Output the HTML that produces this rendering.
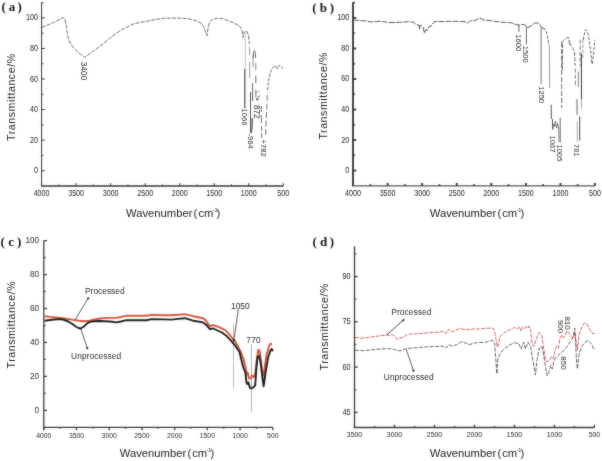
<!DOCTYPE html>
<html><head><meta charset="utf-8"><style>
html,body{margin:0;padding:0;background:#fff;}
svg{display:block;will-change:transform;}
</style></head><body>
<svg width="602" height="461" viewBox="0 0 602 461">
<defs><filter id="bl" filterUnits="userSpaceOnUse" x="0" y="0" width="602" height="461" color-interpolation-filters="sRGB"><feGaussianBlur in="SourceGraphic" stdDeviation="1.0" result="b"/><feComposite in="SourceGraphic" in2="b" operator="arithmetic" k1="0" k2="0.65" k3="0.35" k4="0"/></filter></defs>
<rect width="602" height="461" fill="#fff"/>
<g filter="url(#bl)">
<rect width="602" height="461" fill="#fff"/>
<path d="M41.60,2.30 L41.60,186.00" fill="none" stroke="#333" stroke-width="1.0"/>
<path d="M41.10,186.00 L283.30,186.00" fill="none" stroke="#333" stroke-width="1.5"/>
<line x1="41.60" y1="186.00" x2="41.60" y2="183.20" stroke="#333" stroke-width="1.0" />
<text x="41.60" y="196.00" font-family='"Liberation Sans", sans-serif' font-size="8.3" text-anchor="middle" fill="#222" font-weight="normal" textLength="15.87" lengthAdjust="spacingAndGlyphs">4000</text>
<line x1="76.13" y1="186.00" x2="76.13" y2="183.20" stroke="#333" stroke-width="1.0" />
<text x="76.13" y="196.00" font-family='"Liberation Sans", sans-serif' font-size="8.3" text-anchor="middle" fill="#222" font-weight="normal" textLength="15.87" lengthAdjust="spacingAndGlyphs">3500</text>
<line x1="110.66" y1="186.00" x2="110.66" y2="183.20" stroke="#333" stroke-width="1.0" />
<text x="110.66" y="196.00" font-family='"Liberation Sans", sans-serif' font-size="8.3" text-anchor="middle" fill="#222" font-weight="normal" textLength="15.87" lengthAdjust="spacingAndGlyphs">3000</text>
<line x1="145.19" y1="186.00" x2="145.19" y2="183.20" stroke="#333" stroke-width="1.0" />
<text x="145.19" y="196.00" font-family='"Liberation Sans", sans-serif' font-size="8.3" text-anchor="middle" fill="#222" font-weight="normal" textLength="15.87" lengthAdjust="spacingAndGlyphs">2500</text>
<line x1="179.71" y1="186.00" x2="179.71" y2="183.20" stroke="#333" stroke-width="1.0" />
<text x="179.71" y="196.00" font-family='"Liberation Sans", sans-serif' font-size="8.3" text-anchor="middle" fill="#222" font-weight="normal" textLength="15.87" lengthAdjust="spacingAndGlyphs">2000</text>
<line x1="214.24" y1="186.00" x2="214.24" y2="183.20" stroke="#333" stroke-width="1.0" />
<text x="214.24" y="196.00" font-family='"Liberation Sans", sans-serif' font-size="8.3" text-anchor="middle" fill="#222" font-weight="normal" textLength="15.87" lengthAdjust="spacingAndGlyphs">1500</text>
<line x1="248.77" y1="186.00" x2="248.77" y2="183.20" stroke="#333" stroke-width="1.0" />
<text x="248.77" y="196.00" font-family='"Liberation Sans", sans-serif' font-size="8.3" text-anchor="middle" fill="#222" font-weight="normal" textLength="15.87" lengthAdjust="spacingAndGlyphs">1000</text>
<line x1="283.30" y1="186.00" x2="283.30" y2="183.20" stroke="#333" stroke-width="1.0" />
<text x="283.30" y="196.00" font-family='"Liberation Sans", sans-serif' font-size="8.3" text-anchor="middle" fill="#222" font-weight="normal" textLength="11.91" lengthAdjust="spacingAndGlyphs">500</text>
<line x1="58.86" y1="186.00" x2="58.86" y2="184.40" stroke="#333" stroke-width="1.0" />
<line x1="93.39" y1="186.00" x2="93.39" y2="184.40" stroke="#333" stroke-width="1.0" />
<line x1="127.92" y1="186.00" x2="127.92" y2="184.40" stroke="#333" stroke-width="1.0" />
<line x1="162.45" y1="186.00" x2="162.45" y2="184.40" stroke="#333" stroke-width="1.0" />
<line x1="196.98" y1="186.00" x2="196.98" y2="184.40" stroke="#333" stroke-width="1.0" />
<line x1="231.51" y1="186.00" x2="231.51" y2="184.40" stroke="#333" stroke-width="1.0" />
<line x1="266.04" y1="186.00" x2="266.04" y2="184.40" stroke="#333" stroke-width="1.0" />
<line x1="41.60" y1="170.72" x2="44.80" y2="170.72" stroke="#333" stroke-width="1.0" />
<text x="37.90" y="173.21" font-family='"Liberation Sans", sans-serif' font-size="8.3" text-anchor="end" fill="#222" font-weight="normal" textLength="3.97" lengthAdjust="spacingAndGlyphs">0</text>
<line x1="41.60" y1="140.15" x2="44.80" y2="140.15" stroke="#333" stroke-width="1.0" />
<text x="37.90" y="142.64" font-family='"Liberation Sans", sans-serif' font-size="8.3" text-anchor="end" fill="#222" font-weight="normal" textLength="7.94" lengthAdjust="spacingAndGlyphs">20</text>
<line x1="41.60" y1="109.59" x2="44.80" y2="109.59" stroke="#333" stroke-width="1.0" />
<text x="37.90" y="112.08" font-family='"Liberation Sans", sans-serif' font-size="8.3" text-anchor="end" fill="#222" font-weight="normal" textLength="7.94" lengthAdjust="spacingAndGlyphs">40</text>
<line x1="41.60" y1="79.02" x2="44.80" y2="79.02" stroke="#333" stroke-width="1.0" />
<text x="37.90" y="81.51" font-family='"Liberation Sans", sans-serif' font-size="8.3" text-anchor="end" fill="#222" font-weight="normal" textLength="7.94" lengthAdjust="spacingAndGlyphs">60</text>
<line x1="41.60" y1="48.45" x2="44.80" y2="48.45" stroke="#333" stroke-width="1.0" />
<text x="37.90" y="50.94" font-family='"Liberation Sans", sans-serif' font-size="8.3" text-anchor="end" fill="#222" font-weight="normal" textLength="7.94" lengthAdjust="spacingAndGlyphs">80</text>
<line x1="41.60" y1="17.89" x2="44.80" y2="17.89" stroke="#333" stroke-width="1.0" />
<text x="37.90" y="20.38" font-family='"Liberation Sans", sans-serif' font-size="8.3" text-anchor="end" fill="#222" font-weight="normal" textLength="11.91" lengthAdjust="spacingAndGlyphs">100</text>
<line x1="41.60" y1="155.43" x2="43.40" y2="155.43" stroke="#333" stroke-width="1.0" />
<line x1="41.60" y1="124.87" x2="43.40" y2="124.87" stroke="#333" stroke-width="1.0" />
<line x1="41.60" y1="94.30" x2="43.40" y2="94.30" stroke="#333" stroke-width="1.0" />
<line x1="41.60" y1="63.74" x2="43.40" y2="63.74" stroke="#333" stroke-width="1.0" />
<line x1="41.60" y1="33.17" x2="43.40" y2="33.17" stroke="#333" stroke-width="1.0" />
<line x1="41.60" y1="2.61" x2="43.40" y2="2.61" stroke="#333" stroke-width="1.0" />
<path d="M353.00,2.30 L353.00,185.80" fill="none" stroke="#3a3a3a" stroke-width="1.9"/>
<path d="M352.05,185.80 L595.00,185.80" fill="none" stroke="#555" stroke-width="1.3"/>
<line x1="353.00" y1="185.80" x2="353.00" y2="183.00" stroke="#3a3a3a" stroke-width="1.9" />
<text x="353.00" y="196.00" font-family='"Liberation Sans", sans-serif' font-size="8.3" text-anchor="middle" fill="#222" font-weight="normal" textLength="15.87" lengthAdjust="spacingAndGlyphs">4000</text>
<line x1="387.57" y1="185.80" x2="387.57" y2="183.00" stroke="#3a3a3a" stroke-width="1.9" />
<text x="387.57" y="196.00" font-family='"Liberation Sans", sans-serif' font-size="8.3" text-anchor="middle" fill="#222" font-weight="normal" textLength="15.87" lengthAdjust="spacingAndGlyphs">3500</text>
<line x1="422.14" y1="185.80" x2="422.14" y2="183.00" stroke="#3a3a3a" stroke-width="1.9" />
<text x="422.14" y="196.00" font-family='"Liberation Sans", sans-serif' font-size="8.3" text-anchor="middle" fill="#222" font-weight="normal" textLength="15.87" lengthAdjust="spacingAndGlyphs">3000</text>
<line x1="456.71" y1="185.80" x2="456.71" y2="183.00" stroke="#3a3a3a" stroke-width="1.9" />
<text x="456.71" y="196.00" font-family='"Liberation Sans", sans-serif' font-size="8.3" text-anchor="middle" fill="#222" font-weight="normal" textLength="15.87" lengthAdjust="spacingAndGlyphs">2500</text>
<line x1="491.29" y1="185.80" x2="491.29" y2="183.00" stroke="#3a3a3a" stroke-width="1.9" />
<text x="491.29" y="196.00" font-family='"Liberation Sans", sans-serif' font-size="8.3" text-anchor="middle" fill="#222" font-weight="normal" textLength="15.87" lengthAdjust="spacingAndGlyphs">2000</text>
<line x1="525.86" y1="185.80" x2="525.86" y2="183.00" stroke="#3a3a3a" stroke-width="1.9" />
<text x="525.86" y="196.00" font-family='"Liberation Sans", sans-serif' font-size="8.3" text-anchor="middle" fill="#222" font-weight="normal" textLength="15.87" lengthAdjust="spacingAndGlyphs">1500</text>
<line x1="560.43" y1="185.80" x2="560.43" y2="183.00" stroke="#3a3a3a" stroke-width="1.9" />
<text x="560.43" y="196.00" font-family='"Liberation Sans", sans-serif' font-size="8.3" text-anchor="middle" fill="#222" font-weight="normal" textLength="15.87" lengthAdjust="spacingAndGlyphs">1000</text>
<line x1="595.00" y1="185.80" x2="595.00" y2="183.00" stroke="#3a3a3a" stroke-width="1.9" />
<text x="595.00" y="196.00" font-family='"Liberation Sans", sans-serif' font-size="8.3" text-anchor="middle" fill="#222" font-weight="normal" textLength="11.91" lengthAdjust="spacingAndGlyphs">500</text>
<line x1="370.29" y1="185.80" x2="370.29" y2="184.20" stroke="#3a3a3a" stroke-width="1.9" />
<line x1="404.86" y1="185.80" x2="404.86" y2="184.20" stroke="#3a3a3a" stroke-width="1.9" />
<line x1="439.43" y1="185.80" x2="439.43" y2="184.20" stroke="#3a3a3a" stroke-width="1.9" />
<line x1="474.00" y1="185.80" x2="474.00" y2="184.20" stroke="#3a3a3a" stroke-width="1.9" />
<line x1="508.57" y1="185.80" x2="508.57" y2="184.20" stroke="#3a3a3a" stroke-width="1.9" />
<line x1="543.14" y1="185.80" x2="543.14" y2="184.20" stroke="#3a3a3a" stroke-width="1.9" />
<line x1="577.71" y1="185.80" x2="577.71" y2="184.20" stroke="#3a3a3a" stroke-width="1.9" />
<line x1="353.00" y1="170.58" x2="356.20" y2="170.58" stroke="#3a3a3a" stroke-width="1.9" />
<text x="349.30" y="173.07" font-family='"Liberation Sans", sans-serif' font-size="8.3" text-anchor="end" fill="#222" font-weight="normal" textLength="3.97" lengthAdjust="spacingAndGlyphs">0</text>
<line x1="353.00" y1="140.04" x2="356.20" y2="140.04" stroke="#3a3a3a" stroke-width="1.9" />
<text x="349.30" y="142.53" font-family='"Liberation Sans", sans-serif' font-size="8.3" text-anchor="end" fill="#222" font-weight="normal" textLength="7.94" lengthAdjust="spacingAndGlyphs">20</text>
<line x1="353.00" y1="109.50" x2="356.20" y2="109.50" stroke="#3a3a3a" stroke-width="1.9" />
<text x="349.30" y="111.99" font-family='"Liberation Sans", sans-serif' font-size="8.3" text-anchor="end" fill="#222" font-weight="normal" textLength="7.94" lengthAdjust="spacingAndGlyphs">40</text>
<line x1="353.00" y1="78.96" x2="356.20" y2="78.96" stroke="#3a3a3a" stroke-width="1.9" />
<text x="349.30" y="81.45" font-family='"Liberation Sans", sans-serif' font-size="8.3" text-anchor="end" fill="#222" font-weight="normal" textLength="7.94" lengthAdjust="spacingAndGlyphs">60</text>
<line x1="353.00" y1="48.42" x2="356.20" y2="48.42" stroke="#3a3a3a" stroke-width="1.9" />
<text x="349.30" y="50.91" font-family='"Liberation Sans", sans-serif' font-size="8.3" text-anchor="end" fill="#222" font-weight="normal" textLength="7.94" lengthAdjust="spacingAndGlyphs">80</text>
<line x1="353.00" y1="17.88" x2="356.20" y2="17.88" stroke="#3a3a3a" stroke-width="1.9" />
<text x="349.30" y="20.37" font-family='"Liberation Sans", sans-serif' font-size="8.3" text-anchor="end" fill="#222" font-weight="normal" textLength="11.91" lengthAdjust="spacingAndGlyphs">100</text>
<line x1="353.00" y1="155.31" x2="354.80" y2="155.31" stroke="#3a3a3a" stroke-width="1.9" />
<line x1="353.00" y1="124.77" x2="354.80" y2="124.77" stroke="#3a3a3a" stroke-width="1.9" />
<line x1="353.00" y1="94.23" x2="354.80" y2="94.23" stroke="#3a3a3a" stroke-width="1.9" />
<line x1="353.00" y1="63.69" x2="354.80" y2="63.69" stroke="#3a3a3a" stroke-width="1.9" />
<line x1="353.00" y1="33.15" x2="354.80" y2="33.15" stroke="#3a3a3a" stroke-width="1.9" />
<line x1="353.00" y1="2.61" x2="354.80" y2="2.61" stroke="#3a3a3a" stroke-width="1.9" />
<path d="M43.80,240.60 L43.80,430.30" fill="none" stroke="#3c3c3c" stroke-width="1.3"/>
<path d="M43.15,427.30 L272.80,427.30" fill="none" stroke="#3c3c3c" stroke-width="1.3"/>
<line x1="43.80" y1="427.30" x2="43.80" y2="430.30" stroke="#3c3c3c" stroke-width="1.3" />
<text x="43.80" y="437.60" font-family='"Liberation Sans", sans-serif' font-size="7.0" text-anchor="middle" fill="#2a2a2a" font-weight="normal" textLength="15.26" lengthAdjust="spacingAndGlyphs">4000</text>
<line x1="76.51" y1="427.30" x2="76.51" y2="430.30" stroke="#3c3c3c" stroke-width="1.3" />
<text x="76.51" y="437.60" font-family='"Liberation Sans", sans-serif' font-size="7.0" text-anchor="middle" fill="#2a2a2a" font-weight="normal" textLength="15.26" lengthAdjust="spacingAndGlyphs">3500</text>
<line x1="109.23" y1="427.30" x2="109.23" y2="430.30" stroke="#3c3c3c" stroke-width="1.3" />
<text x="109.23" y="437.60" font-family='"Liberation Sans", sans-serif' font-size="7.0" text-anchor="middle" fill="#2a2a2a" font-weight="normal" textLength="15.26" lengthAdjust="spacingAndGlyphs">3000</text>
<line x1="141.94" y1="427.30" x2="141.94" y2="430.30" stroke="#3c3c3c" stroke-width="1.3" />
<text x="141.94" y="437.60" font-family='"Liberation Sans", sans-serif' font-size="7.0" text-anchor="middle" fill="#2a2a2a" font-weight="normal" textLength="15.26" lengthAdjust="spacingAndGlyphs">2500</text>
<line x1="174.66" y1="427.30" x2="174.66" y2="430.30" stroke="#3c3c3c" stroke-width="1.3" />
<text x="174.66" y="437.60" font-family='"Liberation Sans", sans-serif' font-size="7.0" text-anchor="middle" fill="#2a2a2a" font-weight="normal" textLength="15.26" lengthAdjust="spacingAndGlyphs">2000</text>
<line x1="207.37" y1="427.30" x2="207.37" y2="430.30" stroke="#3c3c3c" stroke-width="1.3" />
<text x="207.37" y="437.60" font-family='"Liberation Sans", sans-serif' font-size="7.0" text-anchor="middle" fill="#2a2a2a" font-weight="normal" textLength="15.26" lengthAdjust="spacingAndGlyphs">1500</text>
<line x1="240.09" y1="427.30" x2="240.09" y2="430.30" stroke="#3c3c3c" stroke-width="1.3" />
<text x="240.09" y="437.60" font-family='"Liberation Sans", sans-serif' font-size="7.0" text-anchor="middle" fill="#2a2a2a" font-weight="normal" textLength="15.26" lengthAdjust="spacingAndGlyphs">1000</text>
<line x1="272.80" y1="427.30" x2="272.80" y2="430.30" stroke="#3c3c3c" stroke-width="1.3" />
<text x="272.80" y="437.60" font-family='"Liberation Sans", sans-serif' font-size="7.0" text-anchor="middle" fill="#2a2a2a" font-weight="normal" textLength="11.44" lengthAdjust="spacingAndGlyphs">500</text>
<line x1="60.16" y1="427.30" x2="60.16" y2="428.80" stroke="#3c3c3c" stroke-width="1.3" />
<line x1="92.87" y1="427.30" x2="92.87" y2="428.80" stroke="#3c3c3c" stroke-width="1.3" />
<line x1="125.59" y1="427.30" x2="125.59" y2="428.80" stroke="#3c3c3c" stroke-width="1.3" />
<line x1="158.30" y1="427.30" x2="158.30" y2="428.80" stroke="#3c3c3c" stroke-width="1.3" />
<line x1="191.01" y1="427.30" x2="191.01" y2="428.80" stroke="#3c3c3c" stroke-width="1.3" />
<line x1="223.73" y1="427.30" x2="223.73" y2="428.80" stroke="#3c3c3c" stroke-width="1.3" />
<line x1="256.44" y1="427.30" x2="256.44" y2="428.80" stroke="#3c3c3c" stroke-width="1.3" />
<line x1="43.80" y1="410.33" x2="47.00" y2="410.33" stroke="#3c3c3c" stroke-width="1.3" />
<text x="39.20" y="412.85" font-family='"Liberation Sans", sans-serif' font-size="8.4" text-anchor="end" fill="#2a2a2a" font-weight="normal" textLength="4.58" lengthAdjust="spacingAndGlyphs">0</text>
<line x1="43.80" y1="376.38" x2="47.00" y2="376.38" stroke="#3c3c3c" stroke-width="1.3" />
<text x="39.20" y="378.90" font-family='"Liberation Sans", sans-serif' font-size="8.4" text-anchor="end" fill="#2a2a2a" font-weight="normal" textLength="9.15" lengthAdjust="spacingAndGlyphs">20</text>
<line x1="43.80" y1="342.44" x2="47.00" y2="342.44" stroke="#3c3c3c" stroke-width="1.3" />
<text x="39.20" y="344.96" font-family='"Liberation Sans", sans-serif' font-size="8.4" text-anchor="end" fill="#2a2a2a" font-weight="normal" textLength="9.15" lengthAdjust="spacingAndGlyphs">40</text>
<line x1="43.80" y1="308.49" x2="47.00" y2="308.49" stroke="#3c3c3c" stroke-width="1.3" />
<text x="39.20" y="311.01" font-family='"Liberation Sans", sans-serif' font-size="8.4" text-anchor="end" fill="#2a2a2a" font-weight="normal" textLength="9.15" lengthAdjust="spacingAndGlyphs">60</text>
<line x1="43.80" y1="274.55" x2="47.00" y2="274.55" stroke="#3c3c3c" stroke-width="1.3" />
<text x="39.20" y="277.07" font-family='"Liberation Sans", sans-serif' font-size="8.4" text-anchor="end" fill="#2a2a2a" font-weight="normal" textLength="9.15" lengthAdjust="spacingAndGlyphs">80</text>
<line x1="43.80" y1="240.60" x2="47.00" y2="240.60" stroke="#3c3c3c" stroke-width="1.3" />
<text x="39.20" y="243.12" font-family='"Liberation Sans", sans-serif' font-size="8.4" text-anchor="end" fill="#2a2a2a" font-weight="normal" textLength="13.73" lengthAdjust="spacingAndGlyphs">100</text>
<line x1="43.80" y1="393.35" x2="45.60" y2="393.35" stroke="#3c3c3c" stroke-width="1.3" />
<line x1="43.80" y1="359.41" x2="45.60" y2="359.41" stroke="#3c3c3c" stroke-width="1.3" />
<line x1="43.80" y1="325.46" x2="45.60" y2="325.46" stroke="#3c3c3c" stroke-width="1.3" />
<line x1="43.80" y1="291.52" x2="45.60" y2="291.52" stroke="#3c3c3c" stroke-width="1.3" />
<line x1="43.80" y1="257.57" x2="45.60" y2="257.57" stroke="#3c3c3c" stroke-width="1.3" />
<path d="M354.50,246.30 L354.50,427.50" fill="none" stroke="#3c3c3c" stroke-width="1.3"/>
<path d="M353.85,427.50 L594.40,427.50" fill="none" stroke="#3c3c3c" stroke-width="1.3"/>
<line x1="354.50" y1="427.50" x2="354.50" y2="424.70" stroke="#3c3c3c" stroke-width="1.3" />
<text x="354.50" y="437.40" font-family='"Liberation Sans", sans-serif' font-size="8.0" text-anchor="middle" fill="#222" font-weight="normal" textLength="15.30" lengthAdjust="spacingAndGlyphs">3500</text>
<line x1="394.48" y1="427.50" x2="394.48" y2="424.70" stroke="#3c3c3c" stroke-width="1.3" />
<text x="394.48" y="437.40" font-family='"Liberation Sans", sans-serif' font-size="8.0" text-anchor="middle" fill="#222" font-weight="normal" textLength="15.30" lengthAdjust="spacingAndGlyphs">3000</text>
<line x1="434.47" y1="427.50" x2="434.47" y2="424.70" stroke="#3c3c3c" stroke-width="1.3" />
<text x="434.47" y="437.40" font-family='"Liberation Sans", sans-serif' font-size="8.0" text-anchor="middle" fill="#222" font-weight="normal" textLength="15.30" lengthAdjust="spacingAndGlyphs">2500</text>
<line x1="474.45" y1="427.50" x2="474.45" y2="424.70" stroke="#3c3c3c" stroke-width="1.3" />
<text x="474.45" y="437.40" font-family='"Liberation Sans", sans-serif' font-size="8.0" text-anchor="middle" fill="#222" font-weight="normal" textLength="15.30" lengthAdjust="spacingAndGlyphs">2000</text>
<line x1="514.43" y1="427.50" x2="514.43" y2="424.70" stroke="#3c3c3c" stroke-width="1.3" />
<text x="514.43" y="437.40" font-family='"Liberation Sans", sans-serif' font-size="8.0" text-anchor="middle" fill="#222" font-weight="normal" textLength="15.30" lengthAdjust="spacingAndGlyphs">1500</text>
<line x1="554.42" y1="427.50" x2="554.42" y2="424.70" stroke="#3c3c3c" stroke-width="1.3" />
<text x="554.42" y="437.40" font-family='"Liberation Sans", sans-serif' font-size="8.0" text-anchor="middle" fill="#222" font-weight="normal" textLength="15.30" lengthAdjust="spacingAndGlyphs">1000</text>
<line x1="594.40" y1="427.50" x2="594.40" y2="424.70" stroke="#3c3c3c" stroke-width="1.3" />
<text x="594.40" y="437.40" font-family='"Liberation Sans", sans-serif' font-size="8.0" text-anchor="middle" fill="#222" font-weight="normal" textLength="11.48" lengthAdjust="spacingAndGlyphs">500</text>
<line x1="374.49" y1="427.50" x2="374.49" y2="425.90" stroke="#3c3c3c" stroke-width="1.3" />
<line x1="414.47" y1="427.50" x2="414.47" y2="425.90" stroke="#3c3c3c" stroke-width="1.3" />
<line x1="454.46" y1="427.50" x2="454.46" y2="425.90" stroke="#3c3c3c" stroke-width="1.3" />
<line x1="494.44" y1="427.50" x2="494.44" y2="425.90" stroke="#3c3c3c" stroke-width="1.3" />
<line x1="534.42" y1="427.50" x2="534.42" y2="425.90" stroke="#3c3c3c" stroke-width="1.3" />
<line x1="574.41" y1="427.50" x2="574.41" y2="425.90" stroke="#3c3c3c" stroke-width="1.3" />
<line x1="354.50" y1="412.40" x2="357.70" y2="412.40" stroke="#3c3c3c" stroke-width="1.3" />
<text x="350.60" y="414.98" font-family='"Liberation Sans", sans-serif' font-size="8.6" text-anchor="end" fill="#222" font-weight="normal" textLength="8.22" lengthAdjust="spacingAndGlyphs">45</text>
<line x1="354.50" y1="367.10" x2="357.70" y2="367.10" stroke="#3c3c3c" stroke-width="1.3" />
<text x="350.60" y="369.68" font-family='"Liberation Sans", sans-serif' font-size="8.6" text-anchor="end" fill="#222" font-weight="normal" textLength="8.22" lengthAdjust="spacingAndGlyphs">60</text>
<line x1="354.50" y1="321.80" x2="357.70" y2="321.80" stroke="#3c3c3c" stroke-width="1.3" />
<text x="350.60" y="324.38" font-family='"Liberation Sans", sans-serif' font-size="8.6" text-anchor="end" fill="#222" font-weight="normal" textLength="8.22" lengthAdjust="spacingAndGlyphs">75</text>
<line x1="354.50" y1="276.50" x2="357.70" y2="276.50" stroke="#3c3c3c" stroke-width="1.3" />
<text x="350.60" y="279.08" font-family='"Liberation Sans", sans-serif' font-size="8.6" text-anchor="end" fill="#222" font-weight="normal" textLength="8.22" lengthAdjust="spacingAndGlyphs">90</text>
<line x1="354.50" y1="389.75" x2="356.30" y2="389.75" stroke="#3c3c3c" stroke-width="1.3" />
<line x1="354.50" y1="344.45" x2="356.30" y2="344.45" stroke="#3c3c3c" stroke-width="1.3" />
<line x1="354.50" y1="299.15" x2="356.30" y2="299.15" stroke="#3c3c3c" stroke-width="1.3" />
<line x1="354.50" y1="253.85" x2="356.30" y2="253.85" stroke="#3c3c3c" stroke-width="1.3" />
<text x="1.50" y="10.80" font-family='"Liberation Serif", serif' font-size="13" text-anchor="start" fill="#111" font-weight="bold" >(</text><text x="8.70" y="10.80" font-family='"Liberation Serif", serif' font-size="13" text-anchor="start" fill="#111" font-weight="bold" >a</text><text x="17.40" y="10.80" font-family='"Liberation Serif", serif' font-size="13" text-anchor="start" fill="#111" font-weight="bold" >)</text>
<text x="312.20" y="11.70" font-family='"Liberation Serif", serif' font-size="13" text-anchor="start" fill="#111" font-weight="bold" >(</text><text x="319.70" y="11.70" font-family='"Liberation Serif", serif' font-size="13" text-anchor="start" fill="#111" font-weight="bold" >b</text><text x="329.70" y="11.70" font-family='"Liberation Serif", serif' font-size="13" text-anchor="start" fill="#111" font-weight="bold" >)</text>
<text x="0.50" y="245.90" font-family='"Liberation Serif", serif' font-size="13" text-anchor="start" fill="#111" font-weight="bold" >(</text><text x="8.30" y="245.90" font-family='"Liberation Serif", serif' font-size="13" text-anchor="start" fill="#111" font-weight="bold" >c</text><text x="16.90" y="245.90" font-family='"Liberation Serif", serif' font-size="13" text-anchor="start" fill="#111" font-weight="bold" >)</text>
<text x="312.40" y="246.00" font-family='"Liberation Serif", serif' font-size="13" text-anchor="start" fill="#111" font-weight="bold" >(</text><text x="319.90" y="246.00" font-family='"Liberation Serif", serif' font-size="13" text-anchor="start" fill="#111" font-weight="bold" >d</text><text x="329.70" y="246.00" font-family='"Liberation Serif", serif' font-size="13" text-anchor="start" fill="#111" font-weight="bold" >)</text>
<text x="0" y="0" transform="translate(14.50,97.40) rotate(-90)" font-family='"Liberation Sans", sans-serif' font-size="10.6" text-anchor="middle" fill="#222" textLength="87" lengthAdjust="spacing">Transmittance/%</text>
<text x="0" y="0" transform="translate(326.90,96.10) rotate(-90)" font-family='"Liberation Sans", sans-serif' font-size="10.6" text-anchor="middle" fill="#222" textLength="87" lengthAdjust="spacing">Transmittance/%</text>
<text x="0" y="0" transform="translate(15.00,324.90) rotate(-90)" font-family='"Liberation Sans", sans-serif' font-size="10.6" text-anchor="middle" fill="#222" textLength="87" lengthAdjust="spacing">Transmittance/%</text>
<text x="0" y="0" transform="translate(328.20,327.00) rotate(-90)" font-family='"Liberation Sans", sans-serif' font-size="10.6" text-anchor="middle" fill="#222" textLength="87" lengthAdjust="spacing">Transmittance/%</text>
<text x="126.00" y="217.00" font-family='"Liberation Sans", sans-serif' font-size="11.2" text-anchor="start" fill="#222" font-weight="normal" textLength="66.4" lengthAdjust="spacingAndGlyphs">Wavenumber</text><text x="193.60" y="217.00" font-family='"Liberation Sans", sans-serif' font-size="11.2" text-anchor="start" fill="#222" font-weight="normal" >(</text><text x="198.40" y="217.00" font-family='"Liberation Sans", sans-serif' font-size="11.2" text-anchor="start" fill="#222" font-weight="normal" >cm</text><text x="212.60" y="211.80" font-family='"Liberation Sans", sans-serif' font-size="5.5" text-anchor="start" fill="#222" font-weight="normal" >-</text><text x="214.50" y="211.80" font-family='"Liberation Sans", sans-serif' font-size="5.5" text-anchor="start" fill="#222" font-weight="normal" >1</text><text x="216.60" y="217.00" font-family='"Liberation Sans", sans-serif' font-size="11.2" text-anchor="start" fill="#222" font-weight="normal" >)</text>
<text x="429.80" y="217.00" font-family='"Liberation Sans", sans-serif' font-size="11.2" text-anchor="start" fill="#222" font-weight="normal" textLength="66.4" lengthAdjust="spacingAndGlyphs">Wavenumber</text><text x="497.40" y="217.00" font-family='"Liberation Sans", sans-serif' font-size="11.2" text-anchor="start" fill="#222" font-weight="normal" >(</text><text x="502.20" y="217.00" font-family='"Liberation Sans", sans-serif' font-size="11.2" text-anchor="start" fill="#222" font-weight="normal" >cm</text><text x="516.40" y="211.80" font-family='"Liberation Sans", sans-serif' font-size="5.5" text-anchor="start" fill="#222" font-weight="normal" >-</text><text x="518.30" y="211.80" font-family='"Liberation Sans", sans-serif' font-size="5.5" text-anchor="start" fill="#222" font-weight="normal" >1</text><text x="520.40" y="217.00" font-family='"Liberation Sans", sans-serif' font-size="11.2" text-anchor="start" fill="#222" font-weight="normal" >)</text>
<text x="119.80" y="457.40" font-family='"Liberation Sans", sans-serif' font-size="11.2" text-anchor="start" fill="#222" font-weight="normal" textLength="66.4" lengthAdjust="spacingAndGlyphs">Wavenumber</text><text x="187.40" y="457.40" font-family='"Liberation Sans", sans-serif' font-size="11.2" text-anchor="start" fill="#222" font-weight="normal" >(</text><text x="192.20" y="457.40" font-family='"Liberation Sans", sans-serif' font-size="11.2" text-anchor="start" fill="#222" font-weight="normal" >cm</text><text x="206.40" y="452.20" font-family='"Liberation Sans", sans-serif' font-size="5.5" text-anchor="start" fill="#222" font-weight="normal" >-</text><text x="208.30" y="452.20" font-family='"Liberation Sans", sans-serif' font-size="5.5" text-anchor="start" fill="#222" font-weight="normal" >1</text><text x="210.40" y="457.40" font-family='"Liberation Sans", sans-serif' font-size="11.2" text-anchor="start" fill="#222" font-weight="normal" >)</text>
<text x="429.80" y="457.40" font-family='"Liberation Sans", sans-serif' font-size="11.2" text-anchor="start" fill="#222" font-weight="normal" textLength="66.4" lengthAdjust="spacingAndGlyphs">Wavenumber</text><text x="497.40" y="457.40" font-family='"Liberation Sans", sans-serif' font-size="11.2" text-anchor="start" fill="#222" font-weight="normal" >(</text><text x="502.20" y="457.40" font-family='"Liberation Sans", sans-serif' font-size="11.2" text-anchor="start" fill="#222" font-weight="normal" >cm</text><text x="516.40" y="452.20" font-family='"Liberation Sans", sans-serif' font-size="5.5" text-anchor="start" fill="#222" font-weight="normal" >-</text><text x="518.30" y="452.20" font-family='"Liberation Sans", sans-serif' font-size="5.5" text-anchor="start" fill="#222" font-weight="normal" >1</text><text x="520.40" y="457.40" font-family='"Liberation Sans", sans-serif' font-size="11.2" text-anchor="start" fill="#222" font-weight="normal" >)</text>
<polyline points="41.7,27.4 47.0,25.3 53.3,22.5 58.0,20.2 63.3,17.5 64.9,19.1 65.8,23.0 66.6,28.3 67.4,33.5 68.2,38.2 70.7,44.0 73.5,47.7 76.5,50.7 80.5,54.3 84.9,57.3 88.0,55.0 91.5,52.4 99.8,46.5 109.8,38.2 116.0,33.5 123.0,29.1 133.0,24.1 139.7,22.5 146.6,21.3 155.0,19.6 163.2,18.3 176.5,18.0 188.1,18.6 196.4,20.8 201.4,23.3 203.5,26.5 204.8,29.9 206.9,35.7 208.1,28.3 209.7,21.6 212.5,19.5 216.4,18.3 223.0,18.6 229.7,21.3 234.5,23.4 239.1,25.6 241.2,28.3 242.3,32.0 243.1,37.4 244.0,33.0 244.0,33.0 244.8,31.2" fill="none" stroke="#3a3a3a" stroke-width="0.75" stroke-dasharray="4,1.3" stroke-linejoin="round" />
<polyline points="246.5,31.0 247.2,31.5 248.3,34.8 248.9,39.1 249.4,44.0" fill="none" stroke="#4a4a4a" stroke-width="0.85" stroke-dasharray="4,1.3" stroke-linejoin="round" />
<line x1="249.60" y1="47.00" x2="249.60" y2="55.00" stroke="#888" stroke-width="0.9" />
<line x1="249.70" y1="62.00" x2="249.70" y2="78.00" stroke="#888" stroke-width="0.9" />
<line x1="250.50" y1="92.00" x2="250.50" y2="132.50" stroke="#555" stroke-width="1.0" />
<line x1="252.60" y1="83.00" x2="252.60" y2="101.00" stroke="#555" stroke-width="0.9" />
<line x1="253.10" y1="55.00" x2="253.10" y2="67.00" stroke="#777" stroke-width="0.8" />
<line x1="255.80" y1="63.00" x2="255.80" y2="70.00" stroke="#777" stroke-width="0.9" />
<line x1="255.80" y1="75.60" x2="255.80" y2="83.20" stroke="#555" stroke-width="0.9" />
<line x1="255.90" y1="89.70" x2="255.90" y2="97.30" stroke="#555" stroke-width="0.9" />
<line x1="261.30" y1="106.00" x2="261.30" y2="112.00" stroke="#666" stroke-width="0.9" />
<line x1="261.40" y1="115.00" x2="261.40" y2="123.00" stroke="#666" stroke-width="0.9" />
<line x1="261.50" y1="126.00" x2="261.50" y2="131.00" stroke="#666" stroke-width="0.9" />
<line x1="261.60" y1="133.00" x2="261.60" y2="138.00" stroke="#666" stroke-width="0.9" />
<polyline points="250.5,132.5 251.3,133.0 252.2,128.0 252.6,118.0" fill="none" stroke="#555" stroke-width="0.9" stroke-linejoin="round" />
<polyline points="253.1,58.0 253.6,53.0 254.3,50.5 255.2,52.5 255.7,58.0" fill="none" stroke="#555" stroke-width="0.85" stroke-linejoin="round" />
<polyline points="256.3,98.0 257.2,100.5 258.5,97.5 259.6,95.5" fill="none" stroke="#444" stroke-width="0.9" stroke-linejoin="round" />
<polyline points="257.6,92.0 259.3,91.2" fill="none" stroke="#444" stroke-width="0.8" stroke-linejoin="round" />
<polyline points="265.6,135.0 265.8,128.0 266.2,120.0 266.7,110.0 267.1,100.0 267.3,92.0" fill="none" stroke="#666" stroke-width="0.9" stroke-dasharray="6,2.5" stroke-linejoin="round" />
<polyline points="267.5,90.0 268.5,82.0 269.8,75.0 271.3,70.2 273.0,67.5 275.5,65.8 276.5,67.0 277.3,68.8 278.5,66.2 279.9,65.3 281.5,66.8 283.3,68.5" fill="none" stroke="#4a4a4a" stroke-width="0.85" stroke-dasharray="3,1.5" stroke-linejoin="round" />
<line x1="245.30" y1="31.00" x2="245.30" y2="69.00" stroke="#aaa" stroke-width="0.7" />
<line x1="244.80" y1="69.00" x2="244.80" y2="108.30" stroke="#555" stroke-width="1.3" />
<line x1="250.90" y1="118.00" x2="250.90" y2="132.50" stroke="#555" stroke-width="1.2" />
<text x="0" y="0" transform="translate(81.21,61.80) rotate(90)" font-family='"Liberation Sans", sans-serif' font-size="8.3" fill="#262626">3400</text>
<text x="0" y="0" transform="translate(241.86,108.60) rotate(90)" font-family='"Liberation Sans", sans-serif' font-size="7.6" fill="#262626">1066</text>
<text x="0" y="0" transform="translate(248.26,133.40) rotate(90)" font-family='"Liberation Sans", sans-serif' font-size="7.6" fill="#262626">-964</text>
<text x="0" y="0" transform="translate(254.25,105.00) rotate(90)" font-family='"Liberation Sans", sans-serif' font-size="8.2" fill="#262626">872</text>
<text x="0" y="0" transform="translate(260.86,139.60) rotate(90)" font-family='"Liberation Sans", sans-serif' font-size="7.6" fill="#262626">+782</text>
<polyline points="353.3,20.0 356.5,20.2 360.0,20.4 363.0,20.8 366.6,21.1 369.0,21.5 371.6,22.0 373.5,21.4 376.6,21.7 379.0,21.2 383.2,21.6 386.5,22.3 389.9,22.6 395.0,22.5 399.8,22.3 404.5,22.0 408.6,21.7 413.8,22.3 416.2,24.5 419.0,25.1 419.6,29.6 419.9,25.7 421.4,25.4 423.2,27.2 424.4,33.3 425.7,29.6 427.5,30.2 429.3,26.0 430.5,26.6 432.3,24.2 434.2,21.7 438.4,21.4 443.0,21.6 449.7,21.3 455.0,21.3 460.0,21.5 465.0,21.6 467.4,23.3 469.9,20.8 474.1,20.8 477.0,19.5 479.9,18.0 482.0,19.2 484.9,20.3 488.0,20.4 491.5,20.8 494.5,21.4 498.2,21.6 501.5,22.3 504.8,22.4 508.0,22.5 511.4,22.9 514.0,23.9 516.4,24.6 518.1,24.9 518.9,25.2 519.8,24.9 522.0,24.5 524.7,24.6 526.0,26.0 526.5,26.8 527.2,27.4 528.0,27.4 531.4,25.8 533.0,24.0 535.0,23.0 536.8,22.9 538.5,23.3 539.9,24.0 540.7,26.3" fill="none" stroke="#3a3a3a" stroke-width="0.85" stroke-dasharray="6,1.2" stroke-linejoin="round" />
<line x1="541.10" y1="26.50" x2="541.10" y2="84.00" stroke="#6a6a6a" stroke-width="1.0" />
<line x1="518.90" y1="25.00" x2="518.90" y2="31.80" stroke="#444" stroke-width="0.9" />
<line x1="526.40" y1="26.50" x2="526.40" y2="44.20" stroke="#555" stroke-width="0.9" />
<line x1="549.30" y1="44.00" x2="549.70" y2="88.00" stroke="#8a8a8a" stroke-width="0.9" />
<line x1="551.20" y1="104.70" x2="551.40" y2="119.00" stroke="#555" stroke-width="1.0" />
<line x1="552.50" y1="119.00" x2="552.60" y2="129.50" stroke="#555" stroke-width="1.0" />
<polyline points="561.7,42.0 561.7,108.0" fill="none" stroke="#555" stroke-width="0.9" stroke-dasharray="5,2" stroke-linejoin="round" />
<line x1="560.20" y1="117.60" x2="560.20" y2="142.50" stroke="#555" stroke-width="0.9" />
<polyline points="575.3,68.7 575.4,87.0" fill="none" stroke="#666" stroke-width="0.9" stroke-dasharray="4,2" stroke-linejoin="round" />
<line x1="576.40" y1="99.00" x2="576.60" y2="114.70" stroke="#999" stroke-width="0.8" />
<line x1="577.60" y1="99.00" x2="577.70" y2="114.70" stroke="#999" stroke-width="0.8" />
<line x1="577.10" y1="121.60" x2="577.30" y2="142.40" stroke="#999" stroke-width="0.8" />
<line x1="578.40" y1="71.70" x2="578.40" y2="87.00" stroke="#777" stroke-width="0.9" />
<polyline points="580.2,39.8 580.2,65.7" fill="none" stroke="#666" stroke-width="0.9" stroke-dasharray="4,2" stroke-linejoin="round" />
<line x1="581.40" y1="53.50" x2="581.50" y2="99.00" stroke="#444" stroke-width="1.1" />
<line x1="581.50" y1="99.00" x2="581.50" y2="108.60" stroke="#999" stroke-width="0.9" />
<line x1="579.70" y1="116.40" x2="579.70" y2="140.60" stroke="#444" stroke-width="1.0" />
<polyline points="582.9,39.8 582.9,58.0" fill="none" stroke="#777" stroke-width="0.8" stroke-dasharray="3,2" stroke-linejoin="round" />
<polyline points="541.6,27.0 542.9,27.6 543.5,30.0 544.4,28.5 545.9,30.5 547.2,34.6 548.0,39.5 548.8,44.0" fill="none" stroke="#444" stroke-width="0.85" stroke-dasharray="3,1.5" stroke-linejoin="round" />
<polyline points="552.6,129.5 553.5,124.0 554.5,126.5 555.5,121.0 556.5,128.0 557.5,123.5 558.6,128.0 559.1,142.0" fill="none" stroke="#555" stroke-width="0.8" stroke-linejoin="round" />
<polyline points="562.4,70.0 562.4,41.7 564.6,39.5 566.7,37.9 568.9,37.4 569.5,45.0 570.3,43.6 571.8,47.4 573.4,48.9 574.4,52.0 574.9,59.6 575.1,65.7" fill="none" stroke="#444" stroke-width="0.85" stroke-dasharray="4,1.5" stroke-linejoin="round" />
<polyline points="583.3,39.8 584.0,35.2 585.5,29.9 587.0,30.7 588.6,35.2 589.3,41.3 590.6,50.4 591.6,61.1 592.1,64.1 593.2,56.5 593.9,50.4 594.7,41.3 595.1,39.8" fill="none" stroke="#444" stroke-width="0.85" stroke-dasharray="3,1.6" stroke-linejoin="round" />
<text x="0" y="0" transform="translate(515.86,34.40) rotate(90)" font-family='"Liberation Sans", sans-serif' font-size="7.6" fill="#262626">1600</text>
<text x="0" y="0" transform="translate(522.66,45.80) rotate(90)" font-family='"Liberation Sans", sans-serif' font-size="7.6" fill="#262626">1500</text>
<text x="0" y="0" transform="translate(539.06,86.20) rotate(90)" font-family='"Liberation Sans", sans-serif' font-size="7.6" fill="#262626">1250</text>
<text x="0" y="0" transform="translate(550.26,135.50) rotate(90)" font-family='"Liberation Sans", sans-serif' font-size="7.6" fill="#262626">1067</text>
<text x="0" y="0" transform="translate(556.76,144.50) rotate(90)" font-family='"Liberation Sans", sans-serif' font-size="7.6" fill="#262626">1005</text>
<text x="0" y="0" transform="translate(574.36,144.00) rotate(90)" font-family='"Liberation Sans", sans-serif' font-size="7.6" fill="#262626">761</text>
<line x1="233.50" y1="323.50" x2="233.50" y2="388.50" stroke="#aaa" stroke-width="0.8" />
<line x1="251.40" y1="344.50" x2="251.40" y2="411.80" stroke="#999" stroke-width="0.8" />
<polyline points="44.5,316.2 50.0,316.9 59.9,317.9 66.0,318.8 73.2,319.9 79.0,320.8 84.9,321.2 89.5,320.6 94.8,319.5 100.0,318.5 106.4,317.9 116.4,317.9 121.0,317.0 126.4,315.7 139.7,315.7 146.6,315.7 151.6,314.9 163.2,315.2 171.5,315.2 178.0,314.8 184.8,314.1 193.1,316.2 203.1,318.2 205.5,320.0 207.2,322.4 209.7,326.2 213.1,325.2 219.7,327.4 225.9,330.5 231.7,337.4 235.6,342.2 239.5,349.1 243.5,358.9 245.4,366.7 246.8,374.5 247.6,372.6 248.4,375.6 249.1,378.6 250.6,378.6 252.2,375.6 253.7,377.1 255.2,374.1 256.7,360.4 258.2,349.8 259.5,350.5 260.5,357.4 262.0,369.5 262.8,374.1 263.6,375.6 265.1,365.0 266.6,354.3 268.9,346.7 270.4,343.7 271.9,344.4" fill="none" stroke="#d9553a" stroke-width="1.9" stroke-linejoin="round" />
<polyline points="44.5,320.7 48.3,320.2 54.0,319.5 59.9,319.0 64.0,319.8 68.2,321.5 72.0,323.8 75.7,326.5 78.5,328.0 80.7,328.5 82.8,327.2 84.9,325.7 87.2,323.4 89.8,321.9 94.0,321.3 99.8,321.0 109.8,321.5 116.4,322.4 121.0,321.5 126.4,320.2 139.7,320.2 146.6,320.2 151.6,319.1 163.2,319.4 171.5,319.6 178.0,318.9 184.8,318.2 193.1,320.7 203.1,322.4 206.4,324.9 209.7,329.0 213.1,328.5 219.7,331.5 222.0,332.5 225.9,335.4 231.7,341.3 235.6,346.2 239.5,352.0 243.0,366.5 245.4,372.5 246.4,382.3 247.3,384.0 248.4,382.4 249.9,387.8 251.4,388.5 253.7,387.0 255.2,385.5 256.4,368.0 257.5,357.4 259.0,355.8 260.5,361.9 262.0,374.1 263.6,386.2 264.3,381.7 265.8,371.0 268.1,357.4 270.4,350.5 271.9,349.0 272.7,351.3" fill="none" stroke="#1e1e1e" stroke-width="1.9" stroke-linejoin="round" />
<text x="85.00" y="293.50" font-family='"Liberation Sans", sans-serif' font-size="8.4" text-anchor="start" fill="#2a2a2a" font-weight="normal" textLength="39.6" lengthAdjust="spacing">Processed</text>
<line x1="88.20" y1="298.30" x2="74.90" y2="319.90" stroke="#333" stroke-width="0.8" />
<circle cx="88.2" cy="298.3" r="1.1" fill="#222"/>
<text x="71.00" y="358.60" font-family='"Liberation Sans", sans-serif' font-size="8.4" text-anchor="start" fill="#2a2a2a" font-weight="normal" textLength="50.2" lengthAdjust="spacing">Unprocessed</text>
<line x1="80.70" y1="328.60" x2="87.30" y2="348.20" stroke="#333" stroke-width="0.8" />
<circle cx="87.3" cy="348.2" r="1.1" fill="#222"/>
<text x="231.00" y="308.60" font-family='"Liberation Sans", sans-serif' font-size="8.4" text-anchor="start" fill="#262626" font-weight="normal" >1050</text>
<line x1="238.30" y1="309.70" x2="233.90" y2="340.10" stroke="#333" stroke-width="0.8" />
<circle cx="233.9" cy="340.1" r="1.2" fill="#222"/>
<text x="246.20" y="342.50" font-family='"Liberation Sans", sans-serif' font-size="8.4" text-anchor="start" fill="#333" font-weight="normal" letter-spacing="0.3">770</text>
<polyline points="355.0,337.4 361.6,338.2 368.0,337.5 374.9,336.5 380.0,335.8 386.5,335.2 393.2,334.9 395.7,337.4 397.3,339.5 399.8,337.9 403.2,337.4 406.5,334.9 409.8,334.1 419.8,333.6 429.7,332.7 440.0,332.0 443.0,331.3 446.1,333.5 448.3,329.4 452.1,332.0 459.7,328.5 465.8,329.7 473.4,329.0 479.5,329.0 485.5,328.2 493.1,328.2 494.6,331.3 496.2,340.4 497.4,347.2 498.4,344.9 500.0,336.6 503.8,332.8 509.8,329.7 514.4,327.5 517.6,329.1 519.3,326.5 521.1,330.8 522.8,327.3 524.5,329.1 526.3,326.5 528.0,328.2 528.9,326.0 530.6,330.0 532.3,344.7 534.1,346.4 536.7,337.8 539.3,332.5 541.9,336.0 543.6,348.2 545.4,358.6 547.1,362.0 549.7,360.3 551.4,356.8 553.2,358.6 554.9,351.6 556.6,346.4 558.4,348.2 560.1,337.8 561.8,335.2 563.6,337.8 565.3,334.3 567.0,330.8 568.8,332.5 570.5,336.0 573.1,337.8 574.8,332.5 576.6,344.7 577.4,349.9 579.2,334.3 581.8,327.3 584.4,323.0 587.0,323.9 589.6,329.1 592.2,333.4 594.8,333.4" fill="none" stroke="#c43c3c" stroke-width="0.8" stroke-dasharray="4,1.2" stroke-linejoin="round" />
<polyline points="355.0,350.2 363.3,350.7 374.9,349.5 386.5,348.5 393.2,349.0 397.3,350.7 401.5,350.7 404.8,349.0 409.8,348.2 419.8,347.5 429.8,346.6 440.0,346.4 443.0,346.1 446.1,348.0 449.1,344.6 452.1,346.4 456.4,344.7 461.3,341.9 466.3,343.3 468.8,344.6 476.4,342.6 485.5,342.2 493.1,340.4 494.6,343.4 495.9,360.1 496.9,373.8 497.7,360.1 499.2,355.5 500.7,352.5 503.8,349.5 509.8,344.9 514.4,342.6 517.4,343.4 518.5,343.0 521.1,349.0 523.7,342.1 525.4,349.0 528.0,342.1 530.6,346.4 532.3,356.8 534.1,367.2 535.5,375.0 536.7,362.0 539.3,348.2 541.9,346.4 543.6,355.1 545.4,365.5 547.1,375.9 548.8,372.4 550.6,365.5 552.3,369.0 554.0,360.3 556.6,356.8 560.1,353.4 563.6,350.8 567.0,346.4 570.5,341.2 573.1,337.8 574.8,328.2 575.7,344.7 576.6,362.0 577.4,368.9 579.2,353.4 581.8,346.4 584.4,343.0 587.9,340.4 591.3,343.8 593.9,349.0" fill="none" stroke="#3c3c3c" stroke-width="0.8" stroke-dasharray="4,1.4" stroke-linejoin="round" />
<text x="391.30" y="315.00" font-family='"Liberation Sans", sans-serif' font-size="8.4" text-anchor="start" fill="#2a2a2a" font-weight="normal" textLength="40.2" lengthAdjust="spacing">Processed</text>
<line x1="386.50" y1="335.20" x2="404.00" y2="319.50" stroke="#222" stroke-width="0.8" />
<path d="M404.8,318.6 L401.6,320.2 L403.2,321.8 Z" fill="#222"/>
<text x="383.80" y="379.50" font-family='"Liberation Sans", sans-serif' font-size="8.4" text-anchor="start" fill="#2a2a2a" font-weight="normal" textLength="49.8" lengthAdjust="spacing">Unprocessed</text>
<line x1="406.20" y1="349.10" x2="413.50" y2="370.70" stroke="#333" stroke-width="0.8" />
<circle cx="413.5" cy="370.7" r="1.1" fill="#222"/>
<text x="0" y="0" transform="translate(557.92,319.90) rotate(90)" font-family='"Liberation Sans", sans-serif' font-size="8.0" fill="#2a2a2a">900</text>
<text x="0" y="0" transform="translate(565.32,316.40) rotate(90)" font-family='"Liberation Sans", sans-serif' font-size="8.0" fill="#2a2a2a">810</text>
<text x="0" y="0" transform="translate(560.92,356.30) rotate(90)" font-family='"Liberation Sans", sans-serif' font-size="8.0" fill="#2a2a2a">850</text>
</g>
</svg>
</body></html>
